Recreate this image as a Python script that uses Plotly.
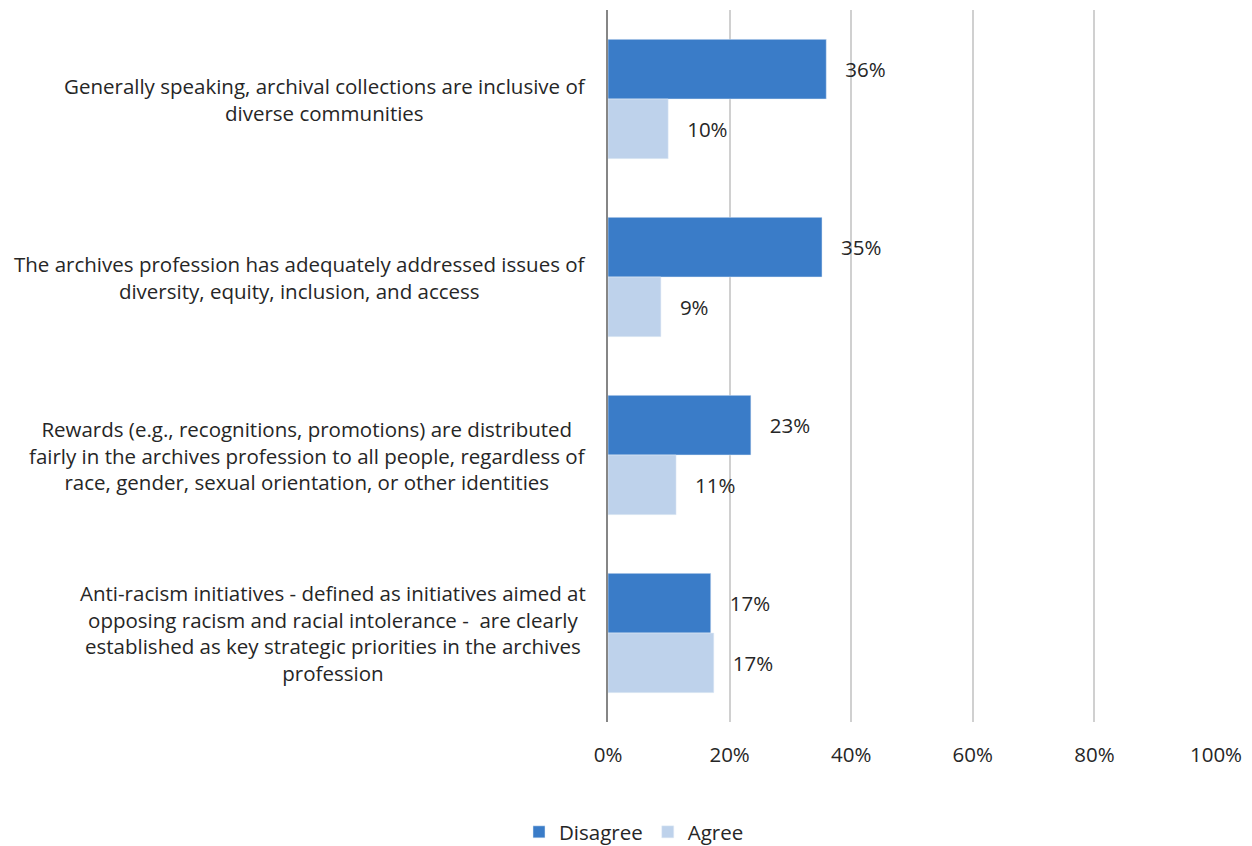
import plotly.graph_objects as go

# survey statements, top to bottom
statements = [
    "Generally speaking, archival collections are inclusive of<br>diverse communities",
    "The archives profession has adequately addressed issues of<br>diversity, equity, inclusion, and access",
    "Rewards (e.g., recognitions, promotions) are distributed<br>fairly in the archives profession to all people, regardless of<br>race, gender, sexual orientation, or other identities",
    "Anti-racism initiatives - defined as initiatives aimed at<br>opposing racism and racial intolerance -  are clearly<br>established as key strategic priorities in the archives<br>profession",
]
cat_ids = ["s1", "s2", "s3", "s4"]

disagree = [35.9, 35.2, 23.5, 16.9]
agree = [9.9, 8.7, 11.2, 17.4]
disagree_labels = ["36%", "35%", "23%", "17%"]
agree_labels = ["10%", "9%", "11%", "17%"]

tick_vals = [0, 20, 40, 60, 80, 100]
tick_text = ["0%", "20%", "40%", "60%", "80%", "100%"]

FONT = "Open Sans, Noto Sans, sans-serif"
FS = 20.5
TXT = "#262626"
pad = "\u00a0" * 3

fig = go.Figure()
fig.add_trace(go.Bar(
    name="Disagree", y=cat_ids, x=disagree, orientation="h",
    marker_color="#3A7CC8",
    text=[pad + t for t in disagree_labels], textposition="outside",
    textfont=dict(size=FS, color=TXT), cliponaxis=False,
))
fig.add_trace(go.Bar(
    name="Agree", y=cat_ids, x=agree, orientation="h",
    marker_color="#BED2EB",
    text=[pad + t for t in agree_labels], textposition="outside",
    textfont=dict(size=FS, color=TXT), cliponaxis=False,
))

# category labels as centered annotations left of the axis
for cid, s in zip(cat_ids, statements):
    fig.add_annotation(
        x=0, xref="paper", xanchor="right", xshift=-20,
        y=cid, yref="y", yanchor="middle",
        text=s, align="center", showarrow=False,
        font=dict(size=FS, color=TXT, family=FONT),
    )

# page has an 8px body margin, so margins are shifted to compensate
fig.update_layout(
    width=1252, height=846,
    margin=dict(l=600, r=44, t=2, b=132),
    paper_bgcolor="white", plot_bgcolor="white",
    barmode="group", bargap=0.33, bargroupgap=0,
    font=dict(family=FONT, size=FS, color=TXT),
    showlegend=True,
    legend=dict(orientation="h", x=0.5, xref="container", xanchor="center",
                y=0.026, yref="container", yanchor="middle",
                font=dict(size=FS), traceorder="normal", itemwidth=30),
)
fig.update_xaxes(
    range=[0, 100], tickvals=tick_vals, ticktext=tick_text,
    showgrid=True, gridcolor="#D0D0D0", gridwidth=1.5,
    zeroline=False, showline=False, ticks="", ticklabelstandoff=18,
    tickfont=dict(size=FS, color=TXT),
)
fig.update_yaxes(
    autorange="reversed", showticklabels=False, ticks="",
    showline=True, linecolor="#868686", linewidth=1.5, showgrid=False,
)

fig.write_html("out.html")
